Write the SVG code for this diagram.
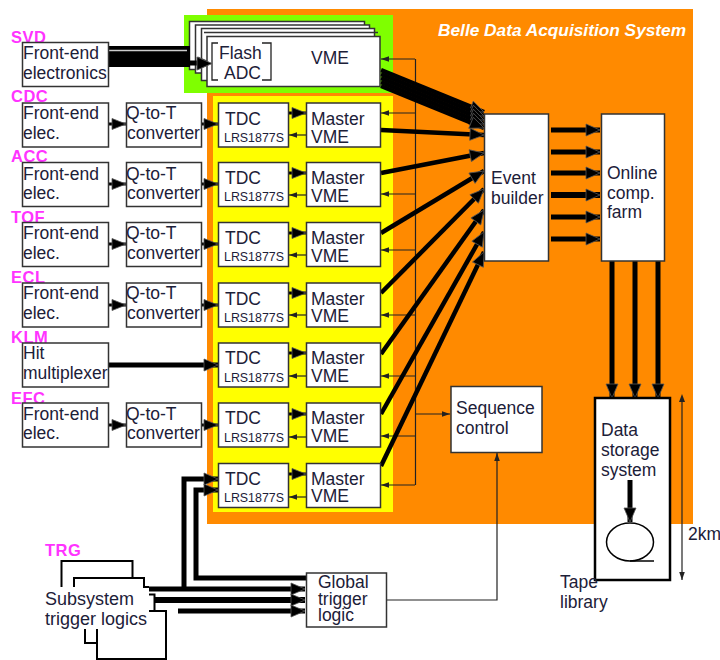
<svg xmlns="http://www.w3.org/2000/svg" width="720" height="660" viewBox="0 0 720 660">
<style>
text{font-family:"Liberation Sans",Arial,sans-serif;font-size:17.5px;fill:#1c2038}
.lab{font-weight:bold;fill:#ff33ff;font-size:16.5px;letter-spacing:.5px}
.sm{font-size:12.4px}
.b{fill:#fff;stroke:#333;stroke-width:1.5}
.t{fill:none;stroke:#000;stroke-width:2}
.thin{fill:none;stroke:#222;stroke-width:1.2}
.thk{fill:none;stroke:#000;stroke-width:5;marker-end:url(#h)}
.thk4{fill:none;stroke:#000;stroke-width:4.500;marker-end:url(#h)}
.sh{fill:none;stroke:#000;stroke-width:3;marker-end:url(#hs)}
.ar{fill:none;stroke:#222;stroke-width:1.2;marker-end:url(#a)}
</style>
<defs>
<marker id="h" markerUnits="userSpaceOnUse" markerWidth="16" markerHeight="16" refX="15" refY="8" orient="auto"><path d="M1 2L15 8L1 14Z" fill="#000" stroke="#555" stroke-width=".8"/></marker>
<marker id="hs" markerUnits="userSpaceOnUse" markerWidth="16" markerHeight="16" refX="15" refY="8" orient="auto"><path d="M1 2.500L15 8L1 13.500Z" fill="#000" stroke="#555" stroke-width=".8"/></marker>
<marker id="a" markerUnits="userSpaceOnUse" markerWidth="10" markerHeight="8" refX="9" refY="4" orient="auto"><path d="M1 1.200L9 4L1 6.800Z" fill="#222"/></marker>
</defs>
<rect x="207" y="9" width="486" height="515" fill="#ff8a00"/>
<rect x="184" y="15" width="209" height="78" fill="#7fff00"/>
<rect x="213" y="96" width="180" height="416" fill="#ffff00"/>
<text x="438" y="36" style="font-weight:bold;font-style:italic;font-size:17.300px;fill:#fff">Belle Data Acquisition System</text>

<g id="vme-stack">
<rect class="b" x="189.500" y="21.500" width="175" height="48"/>
<rect class="b" x="195.500" y="25" width="174" height="48"/>
<rect class="b" x="201.500" y="28.500" width="173" height="52"/>
<path d="M204 32.500H378" stroke="#333" stroke-width="1.500" fill="none"/>
</g>

<g id="connectors">
<rect x="109" y="46" width="81" height="21" fill="#000"/>
<path d="M109 50.500H187" stroke="#ccc" stroke-width="1.500" fill="none"/>
<path class="thk" d="M109 63H212"/>
<path class="thin" d="M415.500 59V485"/>
<path class="ar" d="M415 59H381"/><path class="ar" d="M415 113H381"/><path class="ar" d="M415 194H381"/><path class="ar" d="M415 250H381"/><path class="ar" d="M415 315H381"/><path class="ar" d="M415 376H381"/><path class="ar" d="M415 436H381"/><path class="ar" d="M415 485H381"/>
<path class="ar" d="M415 414H450"/>
<path class="thk4" d="M381 70L484 112"/><path class="thk4" d="M381 74L484 116"/><path class="thk4" d="M381 78L484 120"/><path class="thk4" d="M381 82L484 124"/><path class="thk4" d="M381 86L484 128"/>
<path class="thk4" d="M381 130L484 135"/>
<path class="thk4" d="M381 173L484 153"/>
<path class="thk4" d="M381 233L484 171"/>
<path class="thk4" d="M381 293L484 189"/>
<path class="thk4" d="M381 354L484 210"/>
<path class="thk4" d="M381 414L484 232"/>
<path class="thk4" d="M381 466L484 252"/>
<path class="thk" d="M551 130H600" stroke-width="6"/><path class="thk" d="M551 152H600"/><path class="thk" d="M551 173H600"/><path class="thk" d="M551 195H600" style="stroke-width:6"/><path class="thk" d="M551 217H600"/><path class="thk" d="M551 239H600"/>
<path class="thk" d="M612 261V398"/><path class="thk" d="M635 261V398"/><path class="thk" d="M658 261V398"/>
<path class="sh" d="M109 124H126"/><path class="sh" d="M109 184H126"/><path class="sh" d="M109 244H126"/><path class="sh" d="M109 305H126"/><path class="sh" d="M109 425H126"/>
<path class="sh" d="M202 124H218"/><path class="sh" d="M202 184H218"/><path class="sh" d="M202 244H218"/><path class="sh" d="M202 305H218"/><path class="sh" d="M202 425H218"/>
<path class="thk" d="M109 365H218"/>
<path class="sh" d="M288 113H306"/><path class="sh" d="M288 173H306"/><path class="sh" d="M288 233H306"/><path class="sh" d="M288 293H306"/><path class="sh" d="M288 353H306"/><path class="sh" d="M288 414H306"/><path class="sh" d="M288 474H306"/>
<path class="ar" d="M306 135H289"/><path class="ar" d="M306 195H289"/><path class="ar" d="M306 255H289"/><path class="ar" d="M306 315H289"/><path class="ar" d="M306 376H289"/><path class="ar" d="M306 437H289"/><path class="ar" d="M306 497H289"/>
<path class="thk" d="M149 589H305"/><path class="thk" d="M155 600H305" style="stroke-width:6"/><path class="thk" d="M178 611H305"/>
<path class="thk" d="M184 589V479H218"/>
<path class="thk" d="M306 578H196V490H218"/>
<path class="ar" d="M387 600H497V453"/>
<path class="ar" d="M682 400V580"/>
<path d="M682 394l-3 8h6z" fill="#222"/>
</g>

<g id="vme-front">
<rect class="b" x="207" y="36.500" width="173" height="50"/>
<path d="M218 43H212V80H218M262 43H271V80H262" fill="none" stroke="#222" stroke-width="1.300"/>
<text x="219" y="59">Flash</text><text x="224" y="79">ADC</text><text x="311" y="64">VME</text>
</g>
<path d="M197 57L212 63.500L197 70Z" fill="#000" stroke="#555"/>

<g id="svd"><text class="lab" x="11" y="43">SVD</text><rect class="b" x="22.500" y="42.500" width="86" height="44"/><text x="23" y="59">Front-end</text><text x="23" y="79">electronics</text></g>

<g id="cdc"><text class="lab" x="11" y="102">CDC</text><rect class="b" x="22.500" y="103" width="86" height="44"/><text x="23" y="119">Front-end</text><text x="23" y="139">elec.</text><rect class="b" x="126.500" y="103" width="75" height="44"/><text x="126" y="119">Q-to-T</text><text x="127" y="139">converter</text></g>
<g id="acc"><text class="lab" x="11" y="162">ACC</text><rect class="b" x="22.500" y="162.500" width="86" height="44"/><text x="23" y="180">Front-end</text><text x="23" y="199">elec.</text><rect class="b" x="126.500" y="162.500" width="75" height="44"/><text x="126" y="180">Q-to-T</text><text x="127" y="199">converter</text></g>
<g id="tof"><text class="lab" x="11" y="223">TOF</text><rect class="b" x="22.500" y="222.500" width="86" height="44"/><text x="23" y="239">Front-end</text><text x="23" y="259">elec.</text><rect class="b" x="126.500" y="222.500" width="75" height="44"/><text x="126" y="239">Q-to-T</text><text x="127" y="259">converter</text></g>
<g id="ecl"><text class="lab" x="11" y="283">ECL</text><rect class="b" x="22.500" y="283" width="86" height="44"/><text x="23" y="299">Front-end</text><text x="23" y="319">elec.</text><rect class="b" x="126.500" y="283" width="75" height="44"/><text x="126" y="299">Q-to-T</text><text x="127" y="319">converter</text></g>
<g id="klm"><text class="lab" x="11" y="343">KLM</text><rect class="b" x="22.500" y="343" width="86" height="44"/><text x="23" y="359">Hit</text><text x="23" y="379">multiplexer</text></g>
<g id="efc"><text class="lab" x="11" y="404">EFC</text><rect class="b" x="22.500" y="403" width="86" height="44"/><text x="23" y="420">Front-end</text><text x="23" y="439">elec.</text><rect class="b" x="126.500" y="403" width="75" height="44"/><text x="126" y="420">Q-to-T</text><text x="127" y="439">converter</text></g>

<g id="row1"><rect class="b" x="218.500" y="103" width="70" height="44"/><text x="225" y="125">TDC</text><text class="sm" x="224" y="142">LRS1877S</text><rect class="b" x="306.500" y="103" width="74" height="44"/><text x="311" y="125">Master</text><text x="311" y="143">VME</text></g>
<g id="row2"><rect class="b" x="218.500" y="162.500" width="70" height="44"/><text x="225" y="184">TDC</text><text class="sm" x="224" y="201">LRS1877S</text><rect class="b" x="306.500" y="162.500" width="74" height="44"/><text x="311" y="184">Master</text><text x="311" y="202">VME</text></g>
<g id="row3"><rect class="b" x="218.500" y="222.500" width="70" height="44"/><text x="225" y="244">TDC</text><text class="sm" x="224" y="261">LRS1877S</text><rect class="b" x="306.500" y="222.500" width="74" height="44"/><text x="311" y="244">Master</text><text x="311" y="262">VME</text></g>
<g id="row4"><rect class="b" x="218.500" y="283" width="70" height="44"/><text x="225" y="305">TDC</text><text class="sm" x="224" y="322">LRS1877S</text><rect class="b" x="306.500" y="283" width="74" height="44"/><text x="311" y="305">Master</text><text x="311" y="322">VME</text></g>
<g id="row5"><rect class="b" x="218.500" y="343" width="70" height="44"/><text x="225" y="364">TDC</text><text class="sm" x="224" y="382">LRS1877S</text><rect class="b" x="306.500" y="343" width="74" height="44"/><text x="311" y="364">Master</text><text x="311" y="382">VME</text></g>
<g id="row6"><rect class="b" x="218.500" y="403" width="70" height="44"/><text x="225" y="424">TDC</text><text class="sm" x="224" y="442">LRS1877S</text><rect class="b" x="306.500" y="403" width="74" height="44"/><text x="311" y="424">Master</text><text x="311" y="442">VME</text></g>
<g id="row7"><rect class="b" x="218.500" y="463.500" width="70" height="44"/><text x="225" y="485">TDC</text><text class="sm" x="224" y="502">LRS1877S</text><rect class="b" x="306.500" y="463.500" width="74" height="44"/><text x="311" y="485">Master</text><text x="311" y="502">VME</text></g>

<g id="event-builder"><rect class="b" x="484.500" y="114" width="64" height="147"/><text x="491" y="184">Event</text><text x="491" y="204">builder</text></g>
<g id="farm"><rect class="b" x="601.500" y="114" width="63" height="147"/><text x="607" y="179">Online</text><text x="607" y="199">comp.</text><text x="607" y="218">farm</text></g>
<g id="sequence"><rect class="b" x="451" y="386.500" width="91" height="66"/><text x="456" y="414">Sequence</text><text x="456" y="434">control</text></g>
<g id="storage">
<rect fill="#fff" stroke="#000" stroke-width="2.500" x="595" y="398" width="75" height="182"/>
<text x="601" y="436">Data</text><text x="601" y="456">storage</text><text x="601" y="476">system</text>
<path class="thk" d="M630 480V522"/>
<ellipse cx="630" cy="542" rx="23.500" ry="19" fill="none" stroke="#000" stroke-width="1.500"/>
<path d="M630 561H654" stroke="#000" stroke-width="1.500"/>
</g>
<g id="tape"><text x="560" y="588">Tape</text><text x="560" y="608">library</text></g>
<g id="distance"><text x="688" y="540">2km</text></g>
<g id="global"><rect class="b" x="306.500" y="573" width="80" height="54"/><text x="318" y="588">Global</text><text x="318" y="605">trigger</text><text x="318" y="621">logic</text></g>
<g id="trg">
<text class="lab" x="45" y="556">TRG</text>
<path class="t" d="M61.500 587V561H132.500V577M74 587V578H144V587H149M149 594.500H154.500V610M149 611H166V659H97V629M85 629V643H97"/>
<text x="45" y="605" style="font-size:18px">Subsystem</text><text x="45" y="625" style="font-size:18px">trigger logics</text>
</g>
</svg>
